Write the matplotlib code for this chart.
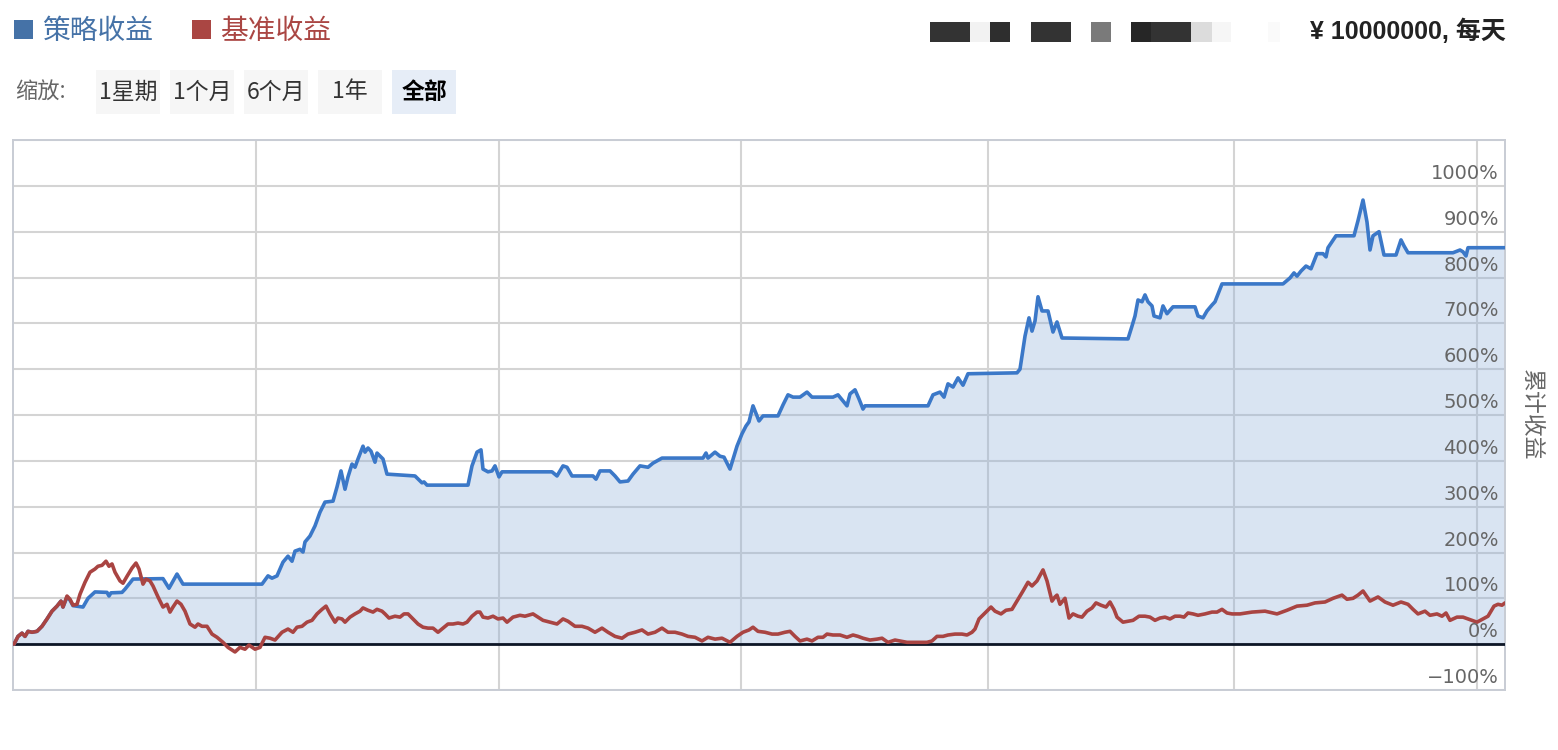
import matplotlib
matplotlib.use("Agg")
import matplotlib.pyplot as plt
from matplotlib.patches import Rectangle

plt.rcParams['font.family'] = ['DejaVu Sans', 'Noto Sans CJK SC']

# ---------------- data (trading-day index, cumulative return in %) ----------------
strategy_day = [
    0, 4, 8, 11, 14, 18, 23, 28, 33, 38,
    43, 47, 49, 53, 56, 59, 69, 74, 81, 93,
    95, 97, 108, 111, 119, 149, 155, 163, 169, 248,
    254, 258, 263, 269, 274, 278, 281, 286, 289, 291,
    296, 301, 306, 311, 319, 323, 327, 331, 334, 338,
    341, 344, 349, 351, 354, 357, 361, 363, 369, 373,
    401, 408, 410, 413, 454, 458, 463, 467, 469, 474,
    478, 481, 485, 488, 538, 543, 549, 553, 558, 579,
    582, 586, 596, 601, 606, 614, 619, 626, 634, 639,
    648, 689, 692, 694, 701, 706, 710, 716, 723, 728,
    732, 735, 739, 745, 749, 764, 769, 774, 779, 786,
    793, 798, 819, 824, 833, 836, 841, 845, 849, 851,
    914, 919, 926, 930, 934, 939, 944, 949, 954, 1003,
    1006, 1011, 1015, 1018, 1021, 1024, 1028, 1034, 1039, 1043,
    1048, 1114, 1118, 1121, 1124, 1128, 1131, 1134, 1138, 1140,
    1146, 1149, 1153, 1159, 1181, 1184, 1189, 1193, 1198, 1201,
    1208, 1269, 1276, 1280, 1283, 1287, 1292, 1297, 1303, 1309,
    1312, 1314, 1322, 1340, 1344, 1349, 1353, 1356, 1359, 1365,
    1370, 1382, 1387, 1390, 1394, 1439, 1446, 1449, 1452, 1454,
    1491,
]
strategy_ret = [
    0, 17, 24, 17, 28, 26, 28, 39, 55, 72,
    83, 94, 81, 103, 96, 84, 81, 100, 114, 113,
    105, 112, 113, 120, 142, 143, 122, 153, 131, 131,
    149, 144, 149, 179, 192, 181, 203, 207, 201, 223,
    236, 258, 288, 310, 312, 343, 378, 338, 365, 393,
    386, 404, 432, 419, 428, 421, 397, 417, 404, 371,
    367, 352, 354, 347, 347, 389, 419, 424, 382, 376,
    378, 389, 365, 376, 376, 367, 389, 386, 367, 367,
    360, 378, 378, 367, 354, 356, 371, 389, 386, 395,
    406, 406, 417, 406, 419, 410, 408, 382, 432, 459,
    476, 485, 520, 487, 498, 498, 522, 544, 539, 539,
    550, 539, 539, 544, 520, 546, 555, 535, 513, 520,
    520, 544, 550, 539, 568, 561, 581, 565, 590, 592,
    600, 672, 712, 683, 705, 758, 727, 727, 681, 703,
    668, 666, 694, 716, 751, 747, 762, 747, 738, 716,
    712, 738, 721, 736, 736, 716, 712, 727, 740, 747,
    786, 786, 799, 810, 803, 814, 825, 819, 852, 852,
    845, 865, 891, 891, 924, 969, 921, 860, 891, 900,
    849, 849, 882, 869, 854, 854, 860, 856, 847, 865,
    865,
]

benchmark_day = [
    0, 4, 8, 11, 14, 18, 23, 28, 33, 38,
    43, 47, 49, 53, 56, 59, 63, 66, 71, 76,
    81, 84, 88, 92, 95, 98, 101, 106, 109, 113,
    118, 122, 125, 129, 132, 136, 139, 144, 149, 153,
    156, 159, 163, 167, 171, 176, 181, 184, 188, 193,
    198, 203, 209, 214, 221, 226, 231, 235, 241, 246,
    251, 256, 261, 268, 274, 279, 283, 288, 293, 298,
    303, 308, 312, 316, 321, 324, 328, 331, 336, 341,
    346, 349, 354, 359, 363, 368, 371, 375, 381, 386,
    390, 394, 399, 404, 409, 414, 419, 424, 429, 434,
    439, 444, 449, 453, 458, 463, 466, 469, 474, 479,
    484, 489, 493, 499, 506, 511, 519, 524, 529, 536,
    543, 549, 554, 561, 568, 574, 581, 588, 594, 601,
    608, 614, 621, 628, 634, 641, 648, 654, 661, 668,
    674, 681, 688, 694, 701, 708, 716, 723, 729, 735,
    739, 744, 751, 758, 764, 771, 776, 781, 786, 793,
    798, 804, 809, 813, 819, 826, 833, 839, 844, 849,
    856, 863, 868, 874, 881, 886, 893, 903, 913, 918,
    923, 929, 934, 941, 948, 953, 958, 961, 965, 971,
    977, 981, 987, 992, 998, 1003, 1009, 1014, 1018, 1023,
    1029, 1033, 1038, 1041, 1043, 1046, 1051, 1055, 1059, 1064,
    1068, 1073, 1078, 1082, 1087, 1092, 1096, 1100, 1103, 1109,
    1114, 1119, 1125, 1131, 1136, 1141, 1146, 1151, 1156, 1161,
    1166, 1170, 1174, 1179, 1184, 1191, 1198, 1203, 1208, 1213,
    1218, 1226, 1238, 1251, 1263, 1273, 1283, 1293, 1301, 1311,
    1319, 1328, 1333, 1339, 1344, 1349, 1356, 1364, 1371, 1379,
    1387, 1394, 1399, 1404, 1411, 1416, 1423, 1428, 1432, 1436,
    1443, 1449, 1454, 1463, 1469, 1474, 1480, 1484, 1488, 1491,
]
benchmark_ret = [
    0, 17, 24, 17, 28, 26, 28, 39, 55, 72,
    83, 94, 81, 105, 98, 85, 87, 109, 135, 157,
    164, 170, 172, 181, 170, 175, 157, 138, 133, 148,
    166, 177, 164, 131, 142, 138, 127, 103, 81, 87,
    70, 81, 94, 87, 72, 44, 37, 44, 39, 39,
    22, 15, 4, -7, -17, -7, -11, -2, -11, -7,
    15, 13, 9, 26, 33, 26, 37, 39, 48, 52,
    66, 76, 83, 66, 48, 57, 55, 48, 59, 66,
    72, 79, 74, 70, 76, 72, 66, 57, 61, 59,
    66, 66, 55, 44, 37, 35, 35, 26, 35, 44,
    44, 46, 44, 48, 61, 70, 70, 59, 57, 61,
    55, 57, 48, 59, 63, 61, 66, 59, 52, 48,
    44, 55, 50, 39, 39, 35, 26, 35, 26, 17,
    13, 22, 26, 31, 22, 26, 35, 26, 26, 22,
    17, 15, 7, 15, 11, 13, 4, 17, 26, 31,
    37, 28, 26, 22, 22, 26, 28, 17, 7, 11,
    7, 15, 15, 22, 20, 20, 15, 20, 17, 13,
    9, 11, 13, 4, 9, 7, 4, 4, 4, 7,
    17, 17, 20, 22, 22, 20, 26, 33, 55, 68,
    81, 72, 66, 74, 76, 94, 116, 135, 127, 138,
    162, 138, 94, 103, 107, 87, 100, 57, 66, 61,
    59, 72, 79, 90, 85, 81, 92, 76, 59, 48,
    50, 52, 61, 61, 59, 52, 57, 59, 55, 61,
    61, 59, 68, 66, 63, 66, 70, 70, 76, 68,
    66, 66, 70, 72, 66, 74, 83, 85, 90, 92,
    100, 107, 98, 100, 107, 116, 94, 103, 92, 85,
    92, 87, 76, 66, 72, 63, 66, 61, 68, 52,
    59, 59, 55, 48, 55, 61, 83, 87, 85, 90,
]

year_start_days = [242, 485, 727, 974, 1220, 1463]
y_ticks = [-100, 0, 100, 200, 300, 400, 500, 600, 700, 800, 900, 1000]
legend_labels = ["策略收益", "基准收益"]
zoom_buttons = ["1星期", "1个月", "6个月", "1年", "全部"]
zoom_label = "缩放:"
capital_text = "¥ 10000000, 每天"
y_title = "累计收益"

# ---------------- figure ----------------
W, H = 1558, 750
fig = plt.figure(figsize=(W / 100, H / 100), dpi=100)
fig.patch.set_facecolor("white")


def fx(px):
    return px / W


def fy(py):
    return 1 - py / H


ax = fig.add_axes([fx(13), fy(690), (1505 - 13) / W, (690 - 140) / H])
ax.set_xlim(-1, 1491)
ax.set_ylim(-100, 1100)

# grid
for v in range(-100, 1101, 100):
    ax.axhline(v, color="#d4d4d4", lw=1.5, zorder=1)
for d in year_start_days:
    ax.axvline(d, color="#d4d4d4", lw=1.5, zorder=1)

STRAT = "#3b78c8"
BENCH = "#a94442"

ax.fill_between(strategy_day, 0, strategy_ret, color="#8cadda", alpha=0.33,
                lw=0, zorder=2)
ax.axhline(0, color="#0d1626", lw=2.0, zorder=3)
ax.plot(strategy_day, strategy_ret, color=STRAT, lw=2.6, zorder=4,
        solid_joinstyle="round", solid_capstyle="round")
ax.plot(benchmark_day, benchmark_ret, color=BENCH, lw=2.6, zorder=5,
        solid_joinstyle="round", solid_capstyle="round")

ax.set_xticks([])
ax.set_yticks([])
for s in ax.spines.values():
    s.set_color("#c8ccd4")
    s.set_linewidth(1.4)

for v in y_ticks:
    lab = ("\u2212%d%%" % (-v)) if v < 0 else ("%d%%" % v)
    ax.annotate(lab, xy=(1, v), xycoords=("axes fraction", "data"),
                xytext=(-6, 3), textcoords="offset pixels",
                ha="right", va="bottom", fontsize=14, color="#666666",
                family="DejaVu Sans", zorder=10)

fig.text(fx(1531), fy(415), y_title, rotation=270, ha="center", va="center",
         fontsize=16.5, color="#666666", family=["Noto Sans CJK SC"])

# legend (top-left)
leg_x = [14, 192]
leg_colors = ["#4572A7", "#AA4643"]
for lx, lab, col in zip(leg_x, legend_labels, leg_colors):
    fig.patches.append(Rectangle((fx(lx), fy(39)), 19 / W, 19 / H,
                                 transform=fig.transFigure, facecolor=col,
                                 edgecolor="none"))
    fig.text(fx(lx + 28), fy(31), lab, ha="left", va="center", fontsize=20,
             color=col, family=["Noto Sans CJK SC"])

# zoom buttons
fig.text(fx(15), fy(92), zoom_label, ha="left", va="center", fontsize=16,
         color="#666666", family=["Noto Sans CJK SC"])
btn_left = [96, 170, 244, 318, 392]
for bx, lab in zip(btn_left, zoom_buttons):
    active = lab == "全部"
    fig.patches.append(Rectangle((fx(bx), fy(114)), 64 / W, 44 / H,
                                 transform=fig.transFigure,
                                 facecolor="#e6edf7" if active else "#f6f6f6",
                                 edgecolor="none"))
    fig.text(fx(bx + 32), fy(92), lab, ha="center", va="center", fontsize=16.5,
             color="#000000" if active else "#333333",
             fontweight="bold" if active else "normal",
             family=["Noto Sans CJK SC"])

# redacted blocks (top-right)
blocks = [(930, 970, "#333333"), (970, 990, "#f2f2f2"), (990, 1010, "#2e2e2e"),
          (1031, 1071, "#333333"), (1091, 1111, "#7a7a7a"), (1131, 1151, "#262626"),
          (1151, 1191, "#333333"), (1191, 1212, "#dcdcdc"), (1212, 1231, "#f6f6f6"),
          (1268, 1280, "#fafafa")]
for x0, x1, c in blocks:
    fig.patches.append(Rectangle((fx(x0), fy(42)), (x1 - x0) / W, 20 / H,
                                 transform=fig.transFigure, facecolor=c,
                                 edgecolor="none"))

fig.text(fx(1506), fy(31), capital_text, ha="right", va="center", fontsize=18,
         color="#222222", fontweight="bold",
         family=["Liberation Sans", "Noto Sans CJK SC"])

fig.savefig("out.png", dpi=100)
